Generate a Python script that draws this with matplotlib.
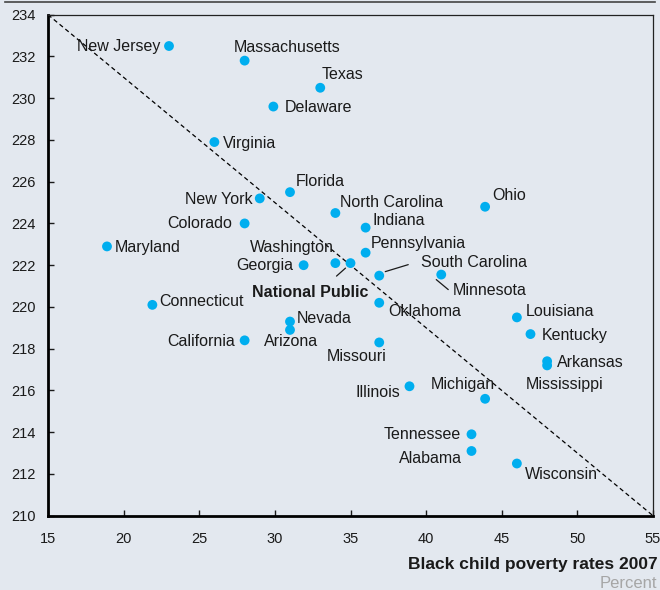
import matplotlib
matplotlib.use("Agg")
import matplotlib.pyplot as plt
from matplotlib.lines import Line2D
from matplotlib.transforms import offset_copy

plt.rcParams['font.family'] = ['Liberation Sans', 'DejaVu Sans']

# ---------------- data ----------------
states = ["New Jersey", "Massachusetts", "Texas", "Delaware", "Virginia",
          "Florida", "New York", "North Carolina", "Indiana", "Ohio",
          "Colorado", "Maryland", "Washington", "National Public",
          "Pennsylvania", "Georgia", "South Carolina", "Minnesota",
          "Connecticut", "Oklahoma", "Nevada", "Arizona", "California",
          "Missouri", "Louisiana", "Kentucky", "Arkansas", "Mississippi",
          "Illinois", "Michigan", "Tennessee", "Alabama", "Wisconsin"]
poverty = [23.0, 28.0, 33.0, 29.9, 26.0,
           31.0, 29.0, 34.0, 36.0, 43.9,
           28.0, 18.9, 34.0, 35.0,
           36.0, 31.9, 36.9, 41.0,
           21.9, 36.9, 31.0, 31.0, 28.0,
           36.9, 46.0, 46.9, 48.0, 48.0,
           38.9, 43.9, 43.0, 43.0, 46.0]
score = [232.5, 231.8, 230.5, 229.6, 227.9,
         225.5, 225.2, 224.5, 223.8, 224.8,
         224.0, 222.9, 222.1, 222.1,
         222.6, 222.0, 221.5, 221.55,
         220.1, 220.2, 219.3, 218.9, 218.4,
         218.3, 219.5, 218.7, 217.4, 217.2,
         216.2, 215.6, 213.9, 213.1, 212.5]
trend_x = [15, 55]
trend_y = [234, 210]
x_ticks = [15, 20, 25, 30, 35, 40, 45, 50, 55]
y_ticks = list(range(210, 236, 2))

# ---------------- label layout (pixel offsets, y up) ----------------
label_pos = {
    "New Jersey": (-9, 0, "right"), "Massachusetts": (-11, 14, "left"),
    "Texas": (1, 14, "left"), "Delaware": (11, 0, "left"),
    "Virginia": (9, -1, "left"), "Florida": (6, 11, "left"),
    "New York": (-7, -1, "right"), "North Carolina": (5, 11, "left"),
    "Indiana": (7, 8, "left"), "Ohio": (7, 12, "left"),
    "Colorado": (-12, 0, "right"), "Maryland": (8, -1, "left"),
    "Washington": (-2, 16, "right"), "National Public": (-40, -29, "center"),
    "Pennsylvania": (5, 10, "left"), "Georgia": (-10, 0, "right"),
    "South Carolina": (42, 14, "left"), "Minnesota": (12, -15, "left"),
    "Connecticut": (7, 4, "left"), "Oklahoma": (9, -8, "left"),
    "Nevada": (7, 4, "left"), "Arizona": (1, -11, "center"),
    "California": (-10, -1, "right"), "Missouri": (7, -14, "right"),
    "Louisiana": (9, 6, "left"), "Kentucky": (11, -1, "left"),
    "Arkansas": (10, -1, "left"), "Mississippi": (17, -19, "center"),
    "Illinois": (-9, -6, "right"), "Michigan": (10, 15, "right"),
    "Tennessee": (-11, 0, "right"), "Alabama": (-10, -7, "right"),
    "Wisconsin": (8, -10, "left"),
}
# leader lines: start offset, end offset (pixels, relative to point)
leaders = {
    "National Public": ((-14, -13), (-5, -5)),
    "South Carolina": ((6, 4), (29, 11)),
    "Minnesota": ((-5, -5), (7, -15)),
}

BG = "#e3e8ef"
DOT = "#00aeef"

fig = plt.figure(figsize=(6.6, 5.9), dpi=100, facecolor=BG)
ax = fig.add_axes([48 / 660, 1 - 515.7 / 590, (653 - 48) / 660, (515.7 - 14.7) / 590])
ax.set_facecolor(BG)

ax.plot(trend_x, trend_y, color="black", lw=0.9, ls=(0, (3.5, 2.5)), zorder=1)
ax.scatter(poverty, score, s=50, color=DOT, edgecolors="none", zorder=3)

for name, xv, yv in zip(states, poverty, score):
    dx, dy, ha = label_pos[name]
    ax.annotate(name, xy=(xv, yv), xytext=(dx, dy - 0.5), textcoords="offset pixels",
                ha=ha, va="center", fontsize=11.5, color="#1a1a1a",
                fontweight="bold" if name == "National Public" else "normal",
                zorder=4)
    if name in leaders:
        (sx, sy), (ex, ey) = leaders[name]
        tr = offset_copy(ax.transData, fig=fig, x=sx, y=sy, units="dots")
        ax.annotate("", xy=(xv, yv), xycoords=tr, xytext=(ex - sx, ey - sy),
                    textcoords="offset pixels",
                    arrowprops=dict(arrowstyle="-", shrinkA=0, shrinkB=0,
                                    lw=0.9, color="#1a1a1a"))

ax.set_xlim(15, 55)
ax.set_ylim(210, 234)
ax.set_xticks(x_ticks)
ax.set_yticks(y_ticks)
ax.tick_params(direction="in", length=4, width=1, labelsize=10.5, colors="#1a1a1a")
ax.tick_params(axis="y", pad=9)
ax.tick_params(axis="x", pad=11.5)

for side in ["left", "bottom"]:
    ax.spines[side].set_linewidth(2)
    ax.spines[side].set_color("black")
for side in ["top", "right"]:
    ax.spines[side].set_linewidth(0.9)
    ax.spines[side].set_color("#222222")

fig.add_artist(Line2D([5 / 660, 655 / 660], [1 - 2 / 590] * 2, color="#444444", lw=1.2))
fig.text(658 / 660, 1 - 565 / 590, "Black child poverty rates 2007", ha="right",
         va="center", fontsize=12.5, fontweight="bold", color="#1a1a1a")
fig.text(600 / 660, 1 - 583 / 590, "Percent", ha="left", va="center",
         fontsize=12, color="#a6a6a6")

fig.savefig("out.png", dpi=100, facecolor=BG)
